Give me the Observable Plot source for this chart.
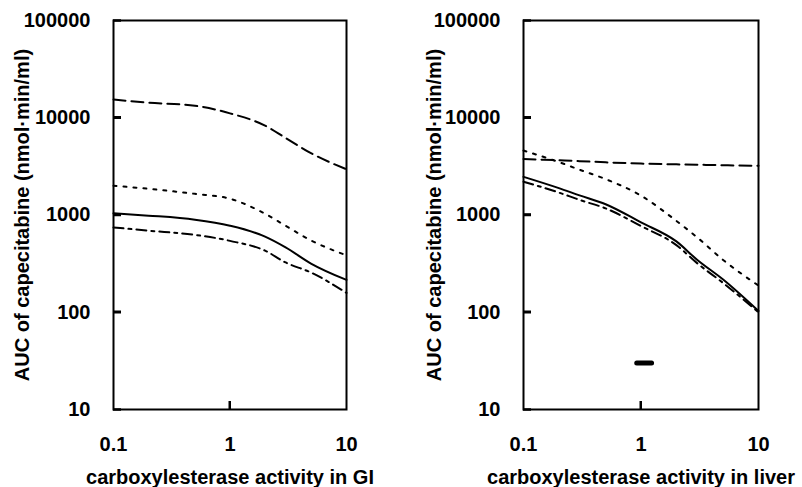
<!DOCTYPE html>
<html><head><meta charset="utf-8">
<script src="https://cdn.jsdelivr.net/npm/d3@7"></script>
<script src="https://cdn.jsdelivr.net/npm/@observablehq/plot@0.6"></script>
<style>
body{margin:0;background:#fff;}
#wrap{display:flex;width:802px;height:487px;overflow:hidden;}
#wrap svg{flex:none;}
</style></head><body><div id="wrap"></div>
<script>
// tick values and labels
const xTicks = [0.1, 1, 10];
const yTicks = [10, 100, 1000, 10000, 100000];
const yLabel = "AUC of capecitabine (nmol·min/ml)";
const gutLabel = "carboxylesterase activity in GI";
const liverLabel = "carboxylesterase activity in liver";

// left panel: carboxylesterase activity in GI
const gutX        = [0.1, 0.2, 0.5, 1, 2, 3, 5, 10];
const gutDash     = [15400, 14300, 13300, 11100, 8300, 6200, 4300, 2950];
const gutDot      = [2000, 1860, 1650, 1470, 1030, 775, 545, 385];
const gutSolid    = [1040, 985, 895, 775, 600, 465, 315, 215];
const gutDashDot  = [745, 690, 625, 542, 430, 325, 255, 158];

// right panel: carboxylesterase activity in liver
const liverX       = [0.1, 0.2, 0.3, 0.5, 1, 2, 3, 5, 10];
const liverDash    = [3770, 3650, 3580, 3480, 3380, 3320, 3290, 3250, 3210];
const liverDot     = [4600, 3500, 2920, 2340, 1580, 870, 590, 345, 188];
const liverSolid   = [2470, 1890, 1590, 1290, 840, 535, 347, 217, 103];
const liverDashDot = [2200, 1700, 1430, 1170, 770, 490, 320, 200, 100];

// horizontal bar in the liver panel
const barX = [0.92, 1.23];
const barY = [30, 30];

const DASH = "12,6", DOT = "3,7", DASHDOT = "10,5,3,5";
const FONT = "'Liberation Sans', Arial, Helvetica, sans-serif";
const TICK = 8, H = 487, MT = 20, MB = 78;

function series(xs, ys) { return xs.map((x, i) => ({x, y: ys[i]})); }

function panel({width, marginLeft, marginRight, xlabel, labelDx, lines, extra = []}) {
  const innerW = width - marginLeft - marginRight;
  const innerH = H - MT - MB;
  const p = Plot.plot({
    width, height: H, marginTop: MT, marginBottom: MB, marginLeft, marginRight,
    style: {fontFamily: FONT, fontWeight: "bold", color: "black", background: "white"},
    x: {type: "log", domain: [0.1, 10]},
    y: {type: "log", domain: [10, 100000]},
    marks: [
      // tick labels
      Plot.axisY(yTicks, {tickSize: 0, tickPadding: 23, tickFormat: d => String(d), fontSize: 20, fontWeight: "bold", label: null}),
      Plot.axisX(xTicks, {tickSize: 0, tickPadding: 27, tickFormat: d => String(d), fontSize: 20, fontWeight: "bold", label: null}),
      ...lines.map(l => Plot.line(l.data, {x: "x", y: "y", stroke: "black", strokeWidth: 2, strokeDasharray: l.dash, curve: "monotone-x"})),
      ...extra,
      Plot.frame({stroke: "black", strokeWidth: 2}),
      Plot.ruleY(yTicks, {y: d => d, insetRight: innerW - TICK, stroke: "black", strokeWidth: 2.5}),
      Plot.ruleX([xTicks[1]], {x: d => d, insetTop: innerH - TICK, stroke: "black", strokeWidth: 2}),
      Plot.text([yLabel], {text: d => d, frameAnchor: "left", rotate: -90, dx: labelDx, textAnchor: "middle", lineAnchor: "middle", fontSize: 20, fontWeight: "bold"}),
      Plot.text([xlabel], {text: d => d, frameAnchor: "bottom", dy: 68, textAnchor: "middle", lineAnchor: "middle", fontSize: 20, fontWeight: "bold"})
    ]
  });
  // inward ticks, positioned through the plot's own scales
  const sx = p.scale("x"), sy = p.scale("y");
  const svg = d3.select(p.tagName.toLowerCase() === "svg" ? p : p.querySelector("svg"));
  const g = svg.append("g").attr("stroke", "black").attr("fill", "none");
  const x0 = sx.apply(xTicks[0]);
  const y0 = sy.apply(yTicks[0]);
  for (const v of yTicks.slice(1, -1)) {
    const yy = sy.apply(v);
    g.append("line").attr("x1", x0).attr("x2", x0 + TICK).attr("y1", yy).attr("y2", yy).attr("stroke-width", 2.5);
  }
  const xx = sx.apply(xTicks[1]);
  g.append("line").attr("x1", xx).attr("x2", xx).attr("y1", y0).attr("y2", y0 - TICK).attr("stroke-width", 2);
  return p;
}

const left = panel({
  width: 401, marginLeft: 113, marginRight: 55, xlabel: gutLabel, labelDx: -91,
  lines: [
    {data: series(gutX, gutDash), dash: DASH},
    {data: series(gutX, gutDot), dash: DOT},
    {data: series(gutX, gutSolid), dash: null},
    {data: series(gutX, gutDashDot), dash: DASHDOT}
  ]
});

const right = panel({
  width: 401, marginLeft: 122, marginRight: 44, xlabel: liverLabel, labelDx: -88.5,
  lines: [
    {data: series(liverX, liverDash), dash: DASH},
    {data: series(liverX, liverDot), dash: DOT},
    {data: series(liverX, liverSolid), dash: null},
    {data: series(liverX, liverDashDot), dash: DASHDOT}
  ],
  extra: [
    Plot.line(series(barX, barY), {x: "x", y: "y", stroke: "black", strokeWidth: 5, strokeLinecap: "round"})
  ]
});

document.getElementById("wrap").append(left, right);
</script>
</body></html>
